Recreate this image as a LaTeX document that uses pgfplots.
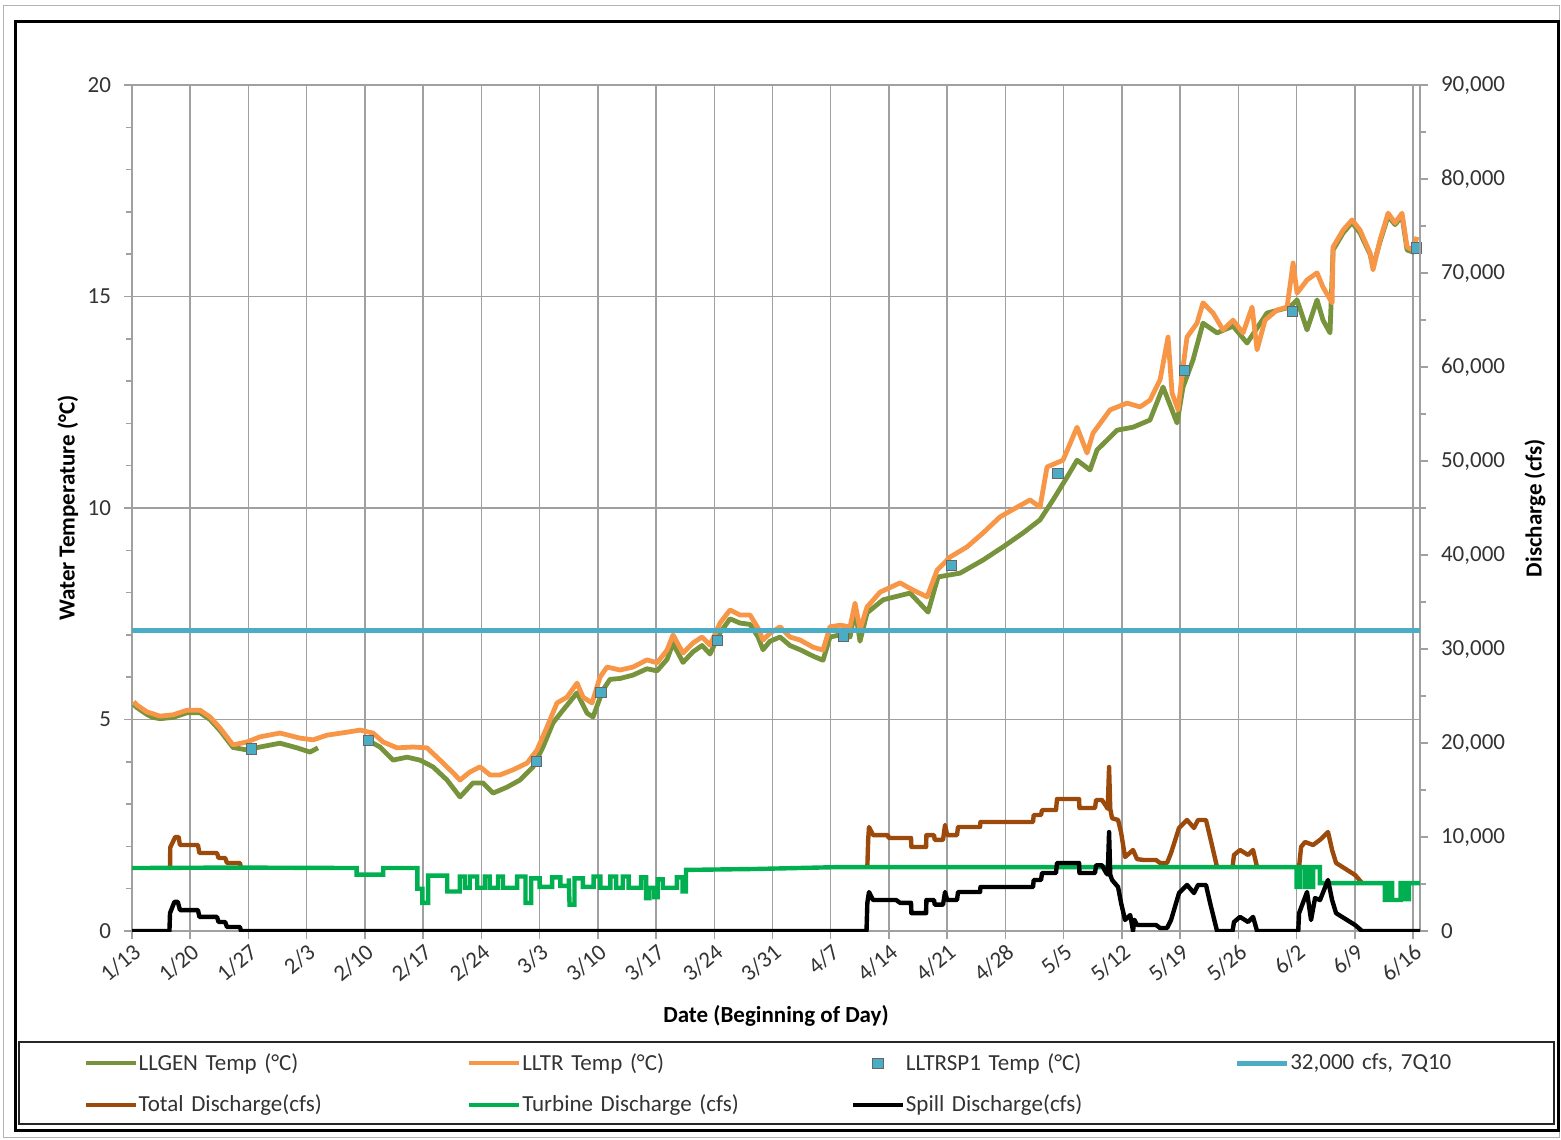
\documentclass[border=0pt]{standalone}
\usepackage{pgfplots}
\pgfplotsset{compat=1.18}
\usepackage{fontspec}
\setmainfont{Carlito}
\definecolor{llgen}{HTML}{77933C}
\definecolor{lltr}{HTML}{F79646}
\definecolor{sp1}{HTML}{4BACC6}
\definecolor{qline}{HTML}{4BACC6}
\definecolor{total}{HTML}{9C4A0C}
\definecolor{turb}{HTML}{00B050}
\definecolor{gridc}{HTML}{A0A0A0}
\definecolor{txt}{HTML}{333333}
\newcommand{\tf}{\fontsize{11.5}{13}\selectfont}
\begin{document}
\begin{tikzpicture}
\useasboundingbox (0,0) rectangle (780.5pt,-569.5pt);
\draw[gray!60, line width=0.5pt] (1.5pt,-3pt) rectangle (779.5pt,-568.5pt);
\draw[black, line width=1.5pt] (7.5pt,-11pt) rectangle (779pt,-565pt);
\draw[black!85, line width=0.6pt] (9.5pt,-521pt) rectangle (777pt,-562pt);

\begin{axis}[
  at={(66pt,-465.5pt)}, anchor=south west,
  width=644pt, height=423pt, scale only axis,
  xmin=0, xmax=154.84, ymin=0, ymax=20,
  xtick={0,7,...,154},
  xticklabels={1/13,1/20,1/27,2/3,2/10,2/17,2/24,3/3,3/10,3/17,3/24,3/31,4/7,4/14,4/21,4/28,5/5,5/12,5/19,5/26,6/2,6/9,6/16},
  ytick={0,5,...,20},
  minor ytick={1,2,3,4,6,7,8,9,11,12,13,14,16,17,18,19},
  tick pos=left, tick align=outside,
  major tick length=4pt, minor tick length=3pt,
  grid=major, major grid style={gridc, line width=0.75pt},
  axis line style={gridc, line width=0.75pt},
  tick style={gridc, line width=0.75pt},
  /pgf/number format/assume math mode=true,
  ticklabel style={font=\tf, text=txt},
  yticklabel style={xshift=-3pt},
  xticklabel style={rotate=40, anchor=north east, inner sep=1pt},
  xlabel={\textbf{Date (Beginning of Day)}},
  xlabel style={at={(axis description cs:0.5,-0.1005)}, anchor=center, font=\tf},
  ylabel={\textbf{Water Temperature (°C)}},
  ylabel style={at={(axis description cs:-0.0497,0.5)}, anchor=center, rotate=0, font=\tf},
  unbounded coords=jump,
  clip=false,
]
\addplot[llgen, line width=2.4pt, line join=round] coordinates {
(0.2,5.36) (0.6,5.28) (1.8,5.12) (2.5,5.05) (3.37,5.02) (4.93,5.05) (6.61,5.16) (8.18,5.16) (9.38,5.0) (10.58,4.74) (12.14,4.34) (13.83,4.28) (15.39,4.35) (17.79,4.44) (19.84,4.33) (21.40,4.23) (22.36,4.33)
(25,nan)
(28.25,4.52) (29.81,4.35) (31.38,4.04) (33.06,4.11) (34.62,4.04) (36.19,3.88) (37.87,3.57) (39.43,3.17) (40.99,3.50) (42.20,3.50) (43.40,3.26) (45.08,3.40) (46.65,3.57) (48.21,3.88) (49.41,4.35) (50.61,4.92) (51.81,5.22) (53.50,5.63) (54.70,5.15) (55.42,5.06) (56.62,5.70) (57.47,5.95) (58.67,5.97) (60.23,6.05) (61.91,6.20) (63.12,6.15) (64.32,6.42) (65.04,6.80) (66.24,6.35) (67.44,6.60) (68.53,6.75) (69.49,6.55) (70.69,7.05) (71.89,7.38) (73.09,7.28) (74.30,7.25) (75.26,6.95) (75.86,6.65) (76.70,6.85) (77.90,6.95) (79.10,6.75) (80.31,6.65) (81.87,6.50) (83.07,6.40) (83.91,6.95) (85.12,7.00) (86.32,6.95) (86.92,7.60) (87.52,6.85) (88.36,7.52) (90.29,7.83) (93.53,7.99) (95.70,7.54) (96.90,8.37) (99.54,8.46) (102.31,8.77) (104.71,9.08) (107.12,9.41) (109.16,9.72) (110.72,10.19) (112.41,10.73) (113.61,11.13) (115.17,10.90) (116.01,11.37) (118.42,11.84) (120.34,11.91) (122.38,12.08) (123.95,12.86) (125.63,12.01) (126.35,12.86) (127.55,13.50) (128.75,14.37) (130.44,14.14) (132.36,14.30) (134.05,13.90) (136.45,14.61) (139.22,14.75) (140.06,14.92) (141.26,14.21) (142.46,14.92) (143.18,14.44) (144.02,14.14) (144.39,16.10) (145.59,16.50) (146.67,16.75) (147.63,16.50) (148.83,16.00) (149.19,15.70) (150.04,16.30) (151.00,16.90) (151.84,16.70) (152.68,16.90) (153.28,16.10) (154.00,16.05) (154.48,16.30)
};
\addplot[lltr, line width=2.4pt, line join=round] coordinates {
(0.2,5.42) (0.6,5.34) (1.8,5.18) (3.37,5.08) (4.93,5.11) (6.61,5.22) (8.18,5.22) (9.38,5.06) (10.58,4.80) (12.14,4.40) (13.83,4.47) (15.39,4.59) (17.79,4.68) (20.20,4.56) (21.76,4.52) (23.44,4.63) (25.85,4.70) (27.41,4.75) (28.97,4.68) (30.18,4.47) (31.86,4.33) (33.78,4.35) (35.46,4.33) (37.03,4.04) (38.59,3.74) (39.43,3.57) (40.63,3.76) (41.84,3.88) (43.04,3.69) (44.24,3.69) (45.80,3.81) (47.49,3.97) (48.69,4.28) (49.89,4.82) (51.09,5.39) (52.30,5.53) (53.50,5.86) (54.22,5.53) (55.30,5.39) (56.26,6.00) (57.10,6.24) (58.67,6.17) (60.23,6.24) (61.91,6.41) (63.12,6.34) (64.32,6.64) (65.04,7.00) (66.24,6.57) (67.44,6.81) (68.53,6.95) (69.49,6.76) (70.69,7.28) (71.89,7.59) (73.09,7.47) (74.30,7.47) (75.26,7.16) (75.86,6.88) (76.70,7.04) (77.90,7.19) (79.10,6.95) (80.31,6.88) (81.87,6.71) (83.07,6.64) (83.91,7.19) (85.12,7.23) (86.32,7.19) (86.92,7.75) (87.52,7.12) (88.36,7.66) (89.93,8.01) (92.33,8.23) (93.89,8.06) (95.58,7.90) (96.78,8.53) (98.34,8.84) (100.38,9.08) (102.31,9.41) (104.35,9.79) (106.40,10.02) (107.96,10.19) (109.16,10.02) (110.00,10.97) (111.92,11.13) (113.61,11.91) (114.81,11.30) (115.53,11.77) (117.58,12.32) (119.62,12.48) (121.18,12.39) (122.38,12.55) (123.59,13.03) (124.55,14.04) (125.03,12.72) (125.75,12.32) (126.35,13.33) (126.83,14.04) (128.03,14.37) (128.75,14.85) (129.96,14.61) (131.16,14.21) (132.36,14.44) (133.57,14.14) (134.65,14.75) (135.25,13.74) (136.21,14.44) (137.65,14.68) (138.86,14.75) (139.58,15.79) (140.06,15.08) (141.26,15.39) (142.46,15.56) (143.18,15.22) (144.27,14.85) (144.39,16.17) (145.59,16.57) (146.67,16.81) (147.63,16.57) (148.83,16.03) (149.19,15.63) (150.04,16.34) (151.00,16.97) (151.84,16.74) (152.68,16.97) (153.28,16.17) (154.00,16.10) (154.48,16.41)
};
\addplot[only marks, mark=square*, mark size=2.6pt, mark options={fill=sp1, draw=gray!80!black, line width=0.5pt}] coordinates {
(14.4,4.30) (28.4,4.50) (48.6,4.01) (56.4,5.64) (70.4,6.87) (85.5,6.96) (98.5,8.64) (111.3,10.82) (126.5,13.25) (139.5,14.64) (154.4,16.15)
};
\end{axis}

\begin{axis}[
  at={(66pt,-465.5pt)}, anchor=south west,
  width=644pt, height=423pt, scale only axis,
  xmin=0, xmax=154.84, ymin=0, ymax=90000,
  axis x line=none, axis y line*=right,
  ytick={0,10000,...,90000},
  minor ytick={5000,15000,...,85000},
  tick align=outside,
  major tick length=4pt, minor tick length=3pt,
  axis line style={gridc, line width=0.75pt},
  tick style={gridc, line width=0.75pt},
  scaled y ticks=false,
  /pgf/number format/.cd, 1000 sep={,}, fixed, assume math mode=true,
  /pgfplots/.cd,
  yticklabel style={font=\tf, text=txt, xshift=3pt},
  ylabel={\textbf{Discharge (cfs)}},
  ylabel style={at={(axis description cs:1.0893,0.5)}, anchor=center, rotate=0, font=\tf},
  unbounded coords=jump,
  legend columns=4,
  legend cell align=left,
  legend image code/.code={\draw[mark repeat=2,mark phase=2,#1] plot coordinates {(0pt,0pt) (12.5pt,0pt) (25pt,0pt)};},
  legend style={at={(axis description cs:-0.0375,-0.1425)}, anchor=north west, draw=none, fill=none, inner sep=0pt, outer sep=0pt, column sep=0pt, row sep=8.8pt, font=\tf, nodes={inner xsep=0.3pt, inner ysep=1pt, text width=164pt, align=left, text=txt}},
]
\addlegendimage{llgen, line width=2pt}
\addlegendimage{lltr, line width=2pt}
\addlegendimage{only marks, mark=square*, mark size=2.6pt, mark options={fill=sp1, draw=gray!80!black, line width=0.5pt}}
\addplot[qline, line width=2.6pt] coordinates {(0,32000) (154.84,32000)};
\addplot[total, line width=2.2pt, line join=round] coordinates {
(4.57,6700) (4.6,8900) (5.2,10000) (5.6,10000) (5.77,9150) (7.93,9150) (8.1,8300) (10.22,8300) (10.4,7770) (11.2,7770) (11.42,7240) (12.98,7240) (13.1,6700)
(50,nan)
(88.4,6800) (88.5,9700) (88.6,11060) (89.1,10200) (90.89,10200) (90.95,9900) (93.65,9900) (93.7,8940) (95.46,8940) (95.5,10200) (96.42,10200) (96.5,9700) (97.5,9700) (97.74,11280) (98.0,10200) (99.18,10200) (99.3,11070) (101.95,11070) (102.0,11600) (108.32,11600) (108.4,12340) (109.28,12340) (109.4,12870) (111.08,12870) (111.2,14040) (113.85,14040) (113.9,13090) (115.77,13090) (115.9,13940) (116.61,13940) (117.09,13300) (117.3,13000) (117.46,17450) (117.6,13000) (117.82,12000) (118.54,11810) (118.9,10500) (119.38,7870) (120.34,8620) (120.82,7650) (121.66,7550) (123.11,7550) (123.59,7240) (124.43,7240) (124.91,8300) (125.87,10960) (126.83,11810) (127.67,10960) (128.15,11810) (129.11,11810) (129.60,10000) (130.44,6800)
(131,nan)
(132.3,6800) (132.48,8090) (133.20,8620) (134.17,8090) (134.77,8620) (135.25,6800)
(137,nan)
(140.3,6800) (140.54,8940) (141.02,9470) (141.98,9150) (142.82,9700) (143.78,10530) (144.27,8620) (144.75,7240) (146.07,6500) (147.03,5960) (147.87,5110)
};
\addplot[turb, line width=2.2pt] coordinates {
(0,6700) (12,6750) (27.0,6700) (27.0,6000) (30.2,6000) (30.2,6700) (34.3,6700) (34.3,4500) (34.9,4500) (34.9,3000) (35.6,3000) (35.6,5900) (37.9,5900) (37.9,4200) (39.4,4200) (39.4,5800) (40.0,5800) (40.0,4600) (40.6,4600) (40.6,5800) (41.5,5800) (41.5,4600) (42.4,4600) (42.4,5800) (43.0,5800) (43.0,4600) (44.0,4600) (44.0,5800) (44.6,5800) (44.6,4600) (46.3,4600) (46.3,5800) (47.3,5800) (47.3,3000) (48.0,3000) (48.0,5600) (49.0,5600) (49.0,4700) (50.5,4700) (50.5,5700) (51.5,5700) (51.5,4800) (52.5,4800) (52.5,5600) (52.6,2800) (53.2,2800) (53.2,5600) (54.2,5600) (54.2,4700) (55.5,4700) (55.5,5800) (56.3,5800) (56.3,4600) (57.5,4600) (57.5,5800) (58.2,5800) (58.2,4600) (59.0,4600) (59.0,5800) (59.7,5800) (59.7,4600) (61.2,4600) (61.2,5700) (61.8,5700) (61.8,3500) (62.2,3500) (62.2,4600) (62.8,4600) (62.8,3600) (63.2,3600) (63.2,5500) (63.8,5500) (63.8,4600) (65.5,4600) (65.5,5700) (66.2,5700) (66.2,4200) (66.6,4200) (66.6,6500) (75,6600) (85,6800) (140.0,6800) (140.0,4700) (140.4,4700) (140.4,6800) (141.0,6800) (141.0,4700) (141.3,4700) (141.3,6800) (141.7,6800) (141.7,4700) (142.0,4700) (142.0,6800) (142.8,6800) (142.8,5100) (150.6,5100) (150.6,3300) (151.0,3300) (151.0,5100) (151.5,5100) (151.5,3300) (152.5,3300) (152.5,5100) (153.0,5100) (153.0,3400) (153.5,3400) (153.5,5100) (154.84,5100)
};
\addplot[black, line width=2.2pt, line join=round] coordinates {
(0,0) (4.5,0) (4.57,1900) (5.1,3100) (5.5,3100) (5.77,2230) (7.93,2230) (8.1,1500) (10.22,1500) (10.4,960) (11.2,960) (11.42,430) (12.98,430) (13.1,0) (88.3,0) (88.4,3000) (88.6,4150) (89.08,3300) (91.85,3300) (92.33,3000) (93.65,3000) (93.7,1900) (95.46,1900) (95.5,3300) (96.42,3300) (96.5,2800) (97.5,2800) (97.74,4150) (98.0,3300) (99.18,3300) (99.3,4150) (101.95,4150) (102.0,4680) (108.32,4680) (108.4,5430) (109.28,5430) (109.4,6170) (111.08,6170) (111.2,7240) (113.85,7240) (113.9,6170) (115.77,6170) (115.9,7000) (116.61,7000) (117.09,6200) (117.3,6000) (117.46,10530) (117.6,6000) (117.82,5430) (118.54,4680) (118.9,3000) (119.38,1170) (120.0,1700) (120.34,0) (120.5,1200) (120.82,640) (123.11,640) (123.59,320) (124.43,320) (124.91,1170) (125.87,4040) (126.83,4900) (127.67,4040) (128.15,4900) (129.11,4900) (129.60,3000) (130.44,0) (132.3,0) (132.48,960) (133.20,1500) (134.17,960) (134.77,1500) (135.25,0) (140.2,0) (140.3,1900) (141.26,4150) (141.74,1170) (142.22,3500) (142.82,3300) (143.78,5430) (144.27,3300) (144.75,1900) (146.07,1170) (147.03,640) (147.87,0) (154.84,0)
};
\legend{LLGEN Temp (°C), LLTR Temp (°C), LLTRSP1 Temp (°C), {32,000 cfs, 7Q10}, Total Discharge(cfs), Turbine Discharge (cfs), Spill Discharge(cfs)}
\end{axis}
\end{tikzpicture}
\end{document}
